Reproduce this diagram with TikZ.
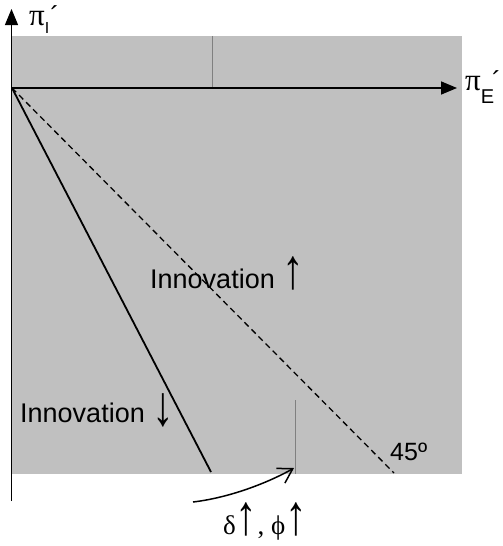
\documentclass[tikz,border=0pt]{standalone}
\usepackage{graphicx}
\usepackage{fontspec}
\setmainfont{Liberation Sans}
\newfontfamily\serifgr{Liberation Serif}
\usetikzlibrary{arrows.meta}
\definecolor{bggray}{HTML}{C0C0C0}
\definecolor{thingray}{HTML}{808080}
\newcommand\myup{{\serifgr\scalebox{1.6}[2.1]{↑}}}
\newcommand\mydown{{\serifgr\raisebox{-0.12em}{\scalebox{1.6}[2.1]{↓}}}}
\begin{document}
\begin{tikzpicture}[x=1pt,y=-1pt,
  lbl/.style={inner sep=0pt,anchor=base west,font=\fontsize{27}{30}\selectfont},
  axisline/.style={line width=1.2pt,-{Triangle[length=16pt,width=13pt]}},
  thinline/.style={thingray,line width=0.7pt},
  solidline/.style={line width=1.8pt},
  dashline/.style={line width=1.3pt,dash pattern=on 6pt off 4pt},
  curvearrow/.style={line width=1.5pt,-{Straight Barb[length=14pt,width=17pt,line width=1.5pt]}}]
\useasboundingbox (0,0) rectangle (503,546);
\fill[bggray] (12,36) rectangle (462,474);
% thin gray lines
\coordinate (t1) at (212,36);
\coordinate (t2) at (212,88);
\coordinate (t3) at (295,400);
\coordinate (t4) at (295,474);
\draw[thinline] (t1) -- (t2);
\draw[thinline] (t3) -- (t4);
% axes
\coordinate (O) at (12,88);
\coordinate (ybot) at (11.5,501);
\coordinate (ytop) at (11.5,9);
\coordinate (xend) at (457,88);
\draw[axisline] (ybot) -- (ytop);
\draw[axisline,line width=1.6pt] (O) -- (xend);
% lines
\coordinate (s) at (211,472);
\coordinate (d) at (394,473);
\draw[solidline] (O) -- (s);
\draw[dashline] (O) -- (d);
% labels
\node[lbl] (piI) at (29,25) {{\serifgr\fontsize{31}{31}\selectfont π}\raisebox{-8pt}{\fontsize{16}{16}\selectfont I}\hspace{1pt}´};
\node[lbl] (piE) at (465,90) {{\serifgr\fontsize{31}{31}\selectfont π}\raisebox{-13pt}{\fontsize{20}{20}\selectfont E}\hspace{-2pt}´};
\node[lbl] (up) at (150,288) {Innovation \myup};
\node[lbl] (down) at (20,422) {Innovation \mydown};
\node[lbl,font=\fontsize{25}{28}\selectfont] (deg) at (390,460) {45º};
\node[lbl,font=\fontsize{27}{30}\serifgr] (dp) at (223,534) {δ\myup, ϕ\myup};
% curved arrow
\coordinate (c1) at (193,502);
\coordinate (c2) at (294,468);
\draw[curvearrow] (c1) .. controls (235,497) and (275,479) .. (c2);
\end{tikzpicture}
\end{document}
